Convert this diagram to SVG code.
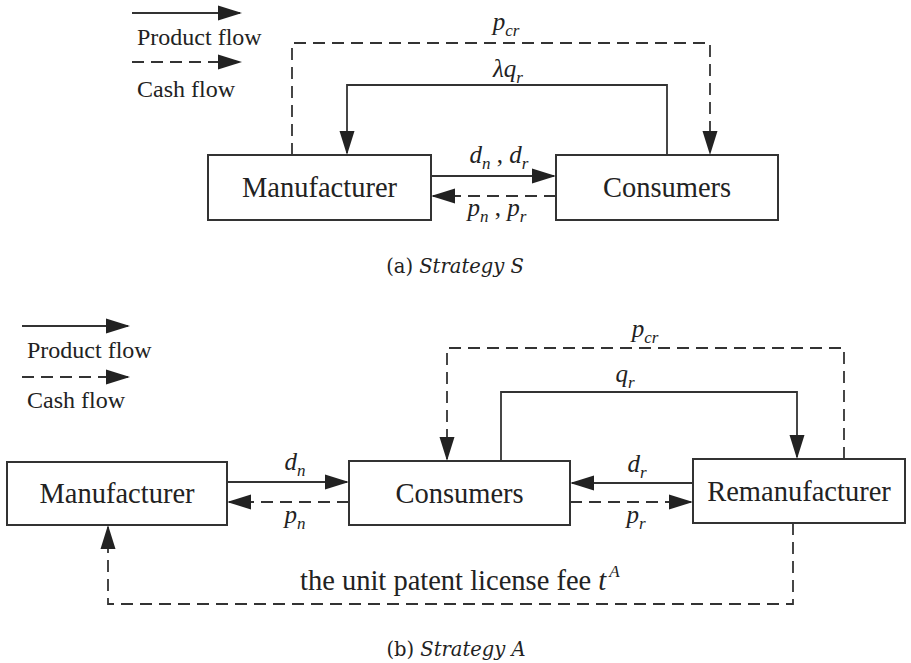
<svg xmlns="http://www.w3.org/2000/svg" width="911" height="663" viewBox="0 0 911 663" font-family="'Liberation Serif', 'Times New Roman', Times, 'DejaVu Serif', serif">
<style>
text{font-family:"Liberation Serif","Times New Roman",Times,"DejaVu Serif",serif}
.box{fill:#fff;stroke:#333;stroke-width:2}
.lbl{font-size:28.5px;fill:#222;text-anchor:middle}
.sol{fill:none;stroke:#333;stroke-width:1.8}
.dsh{fill:none;stroke:#333;stroke-width:1.8;stroke-dasharray:12 7}
.math{font-style:italic;font-size:25px;fill:#222;text-anchor:middle}
.sub{font-size:17px}
.leg{font-size:24px;fill:#222}
text.cap{font-family:"DejaVu Serif",serif;font-size:19.5px;fill:#222;text-anchor:middle}
.txt{font-size:28.5px;fill:#222}
</style>
<defs>
<marker id="ah" markerUnits="userSpaceOnUse" orient="auto" markerWidth="24" markerHeight="16" refX="22" refY="8" viewBox="0 0 24 16">
<path d="M0,0.5 L24,8 L0,15.5 z" fill="#222" stroke="none"/>
</marker>
</defs>
<rect width="911" height="663" fill="#fff"/>

<g id="legend-a">
<path class="sol" d="M132,13 H240" marker-end="url(#ah)"/>
<text class="leg" x="137" y="45">Product flow</text>
<path class="dsh" d="M132,62 H240" marker-end="url(#ah)"/>
<text class="leg" x="137" y="97">Cash flow</text>
</g>

<g id="a-manufacturer">
<rect class="box" x="208" y="155" width="223" height="65"/>
<text class="lbl" x="319.5" y="197">Manufacturer</text>
</g>
<g id="a-consumers">
<rect class="box" x="556" y="155" width="222" height="65"/>
<text class="lbl" x="667" y="197">Consumers</text>
</g>

<g id="a-connectors">
<path class="dsh" d="M292,155 V43 H710 V153" marker-end="url(#ah)"/>
<path class="sol" d="M667,155 V85 H347 V153" marker-end="url(#ah)"/>
<path class="sol" d="M431,176 H554" marker-end="url(#ah)"/>
<path class="dsh" d="M556,196 H433" marker-end="url(#ah)"/>
<text class="math" x="506" y="30">p<tspan class="sub" dy="6">cr</tspan></text>
<text class="math" x="508" y="77">λq<tspan class="sub" dy="6">r</tspan></text>
<text class="math" x="499" y="163">d<tspan class="sub" dy="6">n</tspan><tspan dy="-6" font-style="normal">&#160;,&#160;</tspan>d<tspan class="sub" dy="6">r</tspan></text>
<text class="math" x="497" y="216">p<tspan class="sub" dy="6">n</tspan><tspan dy="-6" font-style="normal">&#160;,&#160;</tspan>p<tspan class="sub" dy="6">r</tspan></text>
</g>

<text class="cap" x="455" y="273">(a) <tspan font-style="italic">Strategy S</tspan></text>

<g id="legend-b">
<path class="sol" d="M22,326 H128" marker-end="url(#ah)"/>
<text class="leg" x="27" y="358">Product flow</text>
<path class="dsh" d="M22,377 H128" marker-end="url(#ah)"/>
<text class="leg" x="27" y="408">Cash flow</text>
</g>

<g id="b-manufacturer">
<rect class="box" x="7" y="462" width="220" height="63"/>
<text class="lbl" x="117" y="503">Manufacturer</text>
</g>
<g id="b-consumers">
<rect class="box" x="349" y="461" width="221" height="64"/>
<text class="lbl" x="459.5" y="503">Consumers</text>
</g>
<g id="b-remanufacturer">
<rect class="box" x="693" y="459" width="212" height="64"/>
<text class="lbl" x="799" y="501">Remanufacturer</text>
</g>

<g id="b-connectors">
<path class="sol" d="M227,482 H347" marker-end="url(#ah)"/>
<path class="dsh" d="M349,502 H229" marker-end="url(#ah)"/>
<path class="sol" d="M693,483 H572" marker-end="url(#ah)"/>
<path class="dsh" d="M570,502 H691" marker-end="url(#ah)"/>
<path class="sol" d="M501,461 V392 H797 V457" marker-end="url(#ah)"/>
<path class="dsh" d="M844,459 V348 H447 V459" marker-end="url(#ah)"/>
<path class="dsh" d="M793,523 V604 H108 V527" marker-end="url(#ah)"/>
<text class="math" x="645" y="337">p<tspan class="sub" dy="6">cr</tspan></text>
<text class="math" x="625" y="382">q<tspan class="sub" dy="6">r</tspan></text>
<text class="math" x="295" y="470">d<tspan class="sub" dy="6">n</tspan></text>
<text class="math" x="295" y="523">p<tspan class="sub" dy="6">n</tspan></text>
<text class="math" x="637" y="472">d<tspan class="sub" dy="6">r</tspan></text>
<text class="math" x="636" y="523">p<tspan class="sub" dy="6">r</tspan></text>
<text class="txt" x="300" y="590">the unit patent license fee <tspan font-style="italic">t</tspan><tspan font-style="italic" font-size="17" dx="3" dy="-13">A</tspan></text>
</g>

<text class="cap" x="456" y="656">(b) <tspan font-style="italic">Strategy A</tspan></text>
</svg>
